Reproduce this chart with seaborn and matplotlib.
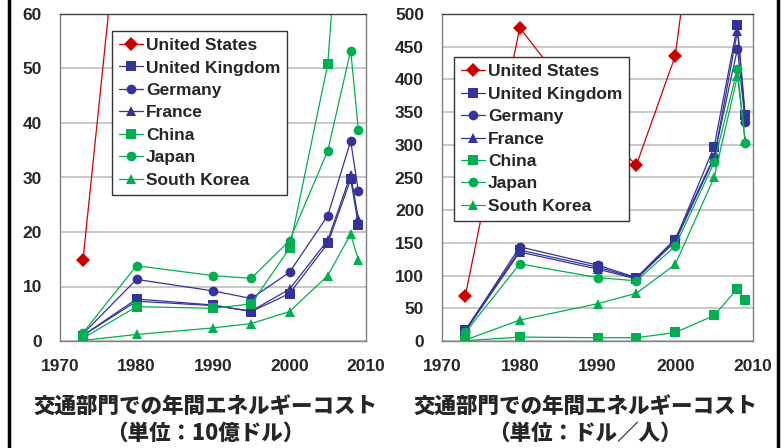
import pandas as pd
import seaborn as sns
import matplotlib
matplotlib.use('Agg')
import matplotlib.pyplot as plt
from matplotlib.lines import Line2D

# years of the survey
years = [1973, 1980, 1990, 1995, 2000, 2005, 2008, 2009]
countries = ['United States', 'United Kingdom', 'Germany', 'France',
             'China', 'Japan', 'South Korea']

# annual transport energy cost, billion dollars
us_total = [14.8, 110, 81, 72, 123, 263, 300, 230]
uk_total = [1.0, 7.7, 6.6, 5.4, 8.7, 17.9, 29.7, 21.3]
de_total = [1.3, 11.3, 9.2, 7.8, 12.6, 23.0, 36.7, 27.5]
fr_total = [1.0, 7.3, 6.5, 5.5, 9.5, 18.5, 30.5, 22.4]
cn_total = [0.5, 6.3, 6.0, 6.8, 17.0, 50.8, 108, 83]
jp_total = [1.5, 13.8, 12.0, 11.5, 18.4, 34.9, 53.3, 38.8]
kr_total = [0.1, 1.2, 2.4, 3.2, 5.4, 12.0, 19.6, 14.9]

# annual transport energy cost, dollars per person
us_capita = [69, 479, 326, 269, 436, 890, 1000, 760]
uk_capita = [17, 139, 113, 96, 154, 297, 483, 345]
de_capita = [16, 144, 116, 97, 156, 282, 447, 335]
fr_capita = [15, 136, 110, 95, 152, 280, 474, 340]
cn_capita = [0.5, 6, 5, 5, 13, 39, 80, 62]
jp_capita = [13, 118, 97, 92, 145, 273, 416, 303]
kr_capita = [1.5, 32, 57, 73, 117, 250, 405, 306]

total = [us_total, uk_total, de_total, fr_total, cn_total, jp_total, kr_total]
capita = [us_capita, uk_capita, de_capita, fr_capita, cn_capita, jp_capita, kr_capita]

colors = ['#CC0000', '#333399', '#333399', '#333399', '#00B050', '#00B050', '#00B050']
markers = ['D', 's', 'o', '^', 's', 'o', '^']
msizes = [7, 6.5, 7, 6.5, 7.5, 7, 6.5]

rows = []
for c, vt, vc in zip(countries, total, capita):
    for y, a, b in zip(years, vt, vc):
        rows.append({'country': c, 'year': y, 'total': a, 'capita': b})
df = pd.DataFrame(rows)

sns.set_style('white')
plt.rcParams['font.family'] = ['Liberation Sans', 'DejaVu Sans']

fig = plt.figure(figsize=(7.84, 4.48), dpi=100)
ax1 = fig.add_axes([60 / 784, 107 / 448, 306 / 784, 327 / 448])
ax2 = fig.add_axes([442 / 784, 107 / 448, 311 / 784, 327 / 448])


def draw(ax, col, ymax, step, leg_xy):
    for c, color, m, ms in zip(countries, colors, markers, msizes):
        sub = df[df['country'] == c]
        sns.lineplot(data=sub, x='year', y=col, ax=ax, color=color, marker=m,
                     markersize=ms, markeredgewidth=0, linewidth=0.9, label=c)
    ax.set_xlim(1970, 2010)
    ax.set_ylim(0, ymax)
    ax.set_xticks(range(1970, 2011, 10))
    ax.set_yticks(range(0, ymax + 1, step))
    ax.set_xlabel('')
    ax.set_ylabel('')
    ax.grid(axis='y', color='#BFBFBF', linewidth=1.2)
    ax.set_axisbelow(True)
    for s in ax.spines.values():
        s.set_color('#808080')
        s.set_linewidth(1)
    ax.spines['top'].set_color('#404040')
    ax.tick_params(axis='both', direction='out', length=5, color='#808080',
                   labelsize=12.5, pad=8)
    for t in ax.get_xticklabels() + ax.get_yticklabels():
        t.set_fontweight('bold')
    leg = ax.legend(loc='upper left', bbox_to_anchor=leg_xy, borderaxespad=0,
                    frameon=True, fancybox=False, handlelength=1.4,
                    handletextpad=0.15, labelspacing=0.42, borderpad=0.4,
                    prop={'weight': 'bold', 'size': 12.5})
    leg.get_frame().set_edgecolor('#333333')
    leg.get_frame().set_linewidth(1)
    leg.get_frame().set_alpha(1)


draw(ax1, 'total', 60, 10, (0.17, 0.948))
draw(ax2, 'capita', 500, 50, (0.0386, 0.868))

jp = ['Noto Sans CJK JP', 'DejaVu Sans']
fig.text(205 / 784, 1 - 407 / 448, '交通部門での年間エネルギーコスト', ha='center',
         va='center', fontsize=15.5, fontweight='heavy', family=jp)
fig.text(205 / 784, 1 - 433 / 448, '（単位：10億ドル）', ha='center',
         va='center', fontsize=15.5, fontweight='heavy', family=jp)
fig.text(585 / 784, 1 - 407 / 448, '交通部門での年間エネルギーコスト', ha='center',
         va='center', fontsize=15.5, fontweight='heavy', family=jp)
fig.text(585 / 784, 1 - 433 / 448, '（単位：ドル／人）', ha='center',
         va='center', fontsize=15.5, fontweight='heavy', family=jp)

# slide borders on both sides
fig.add_artist(Line2D([9 / 784, 9 / 784], [0, 1], color='black', linewidth=2.5))
fig.add_artist(Line2D([778 / 784, 778 / 784], [0, 1], color='black', linewidth=2.5))

fig.savefig('out.png', dpi=100)
